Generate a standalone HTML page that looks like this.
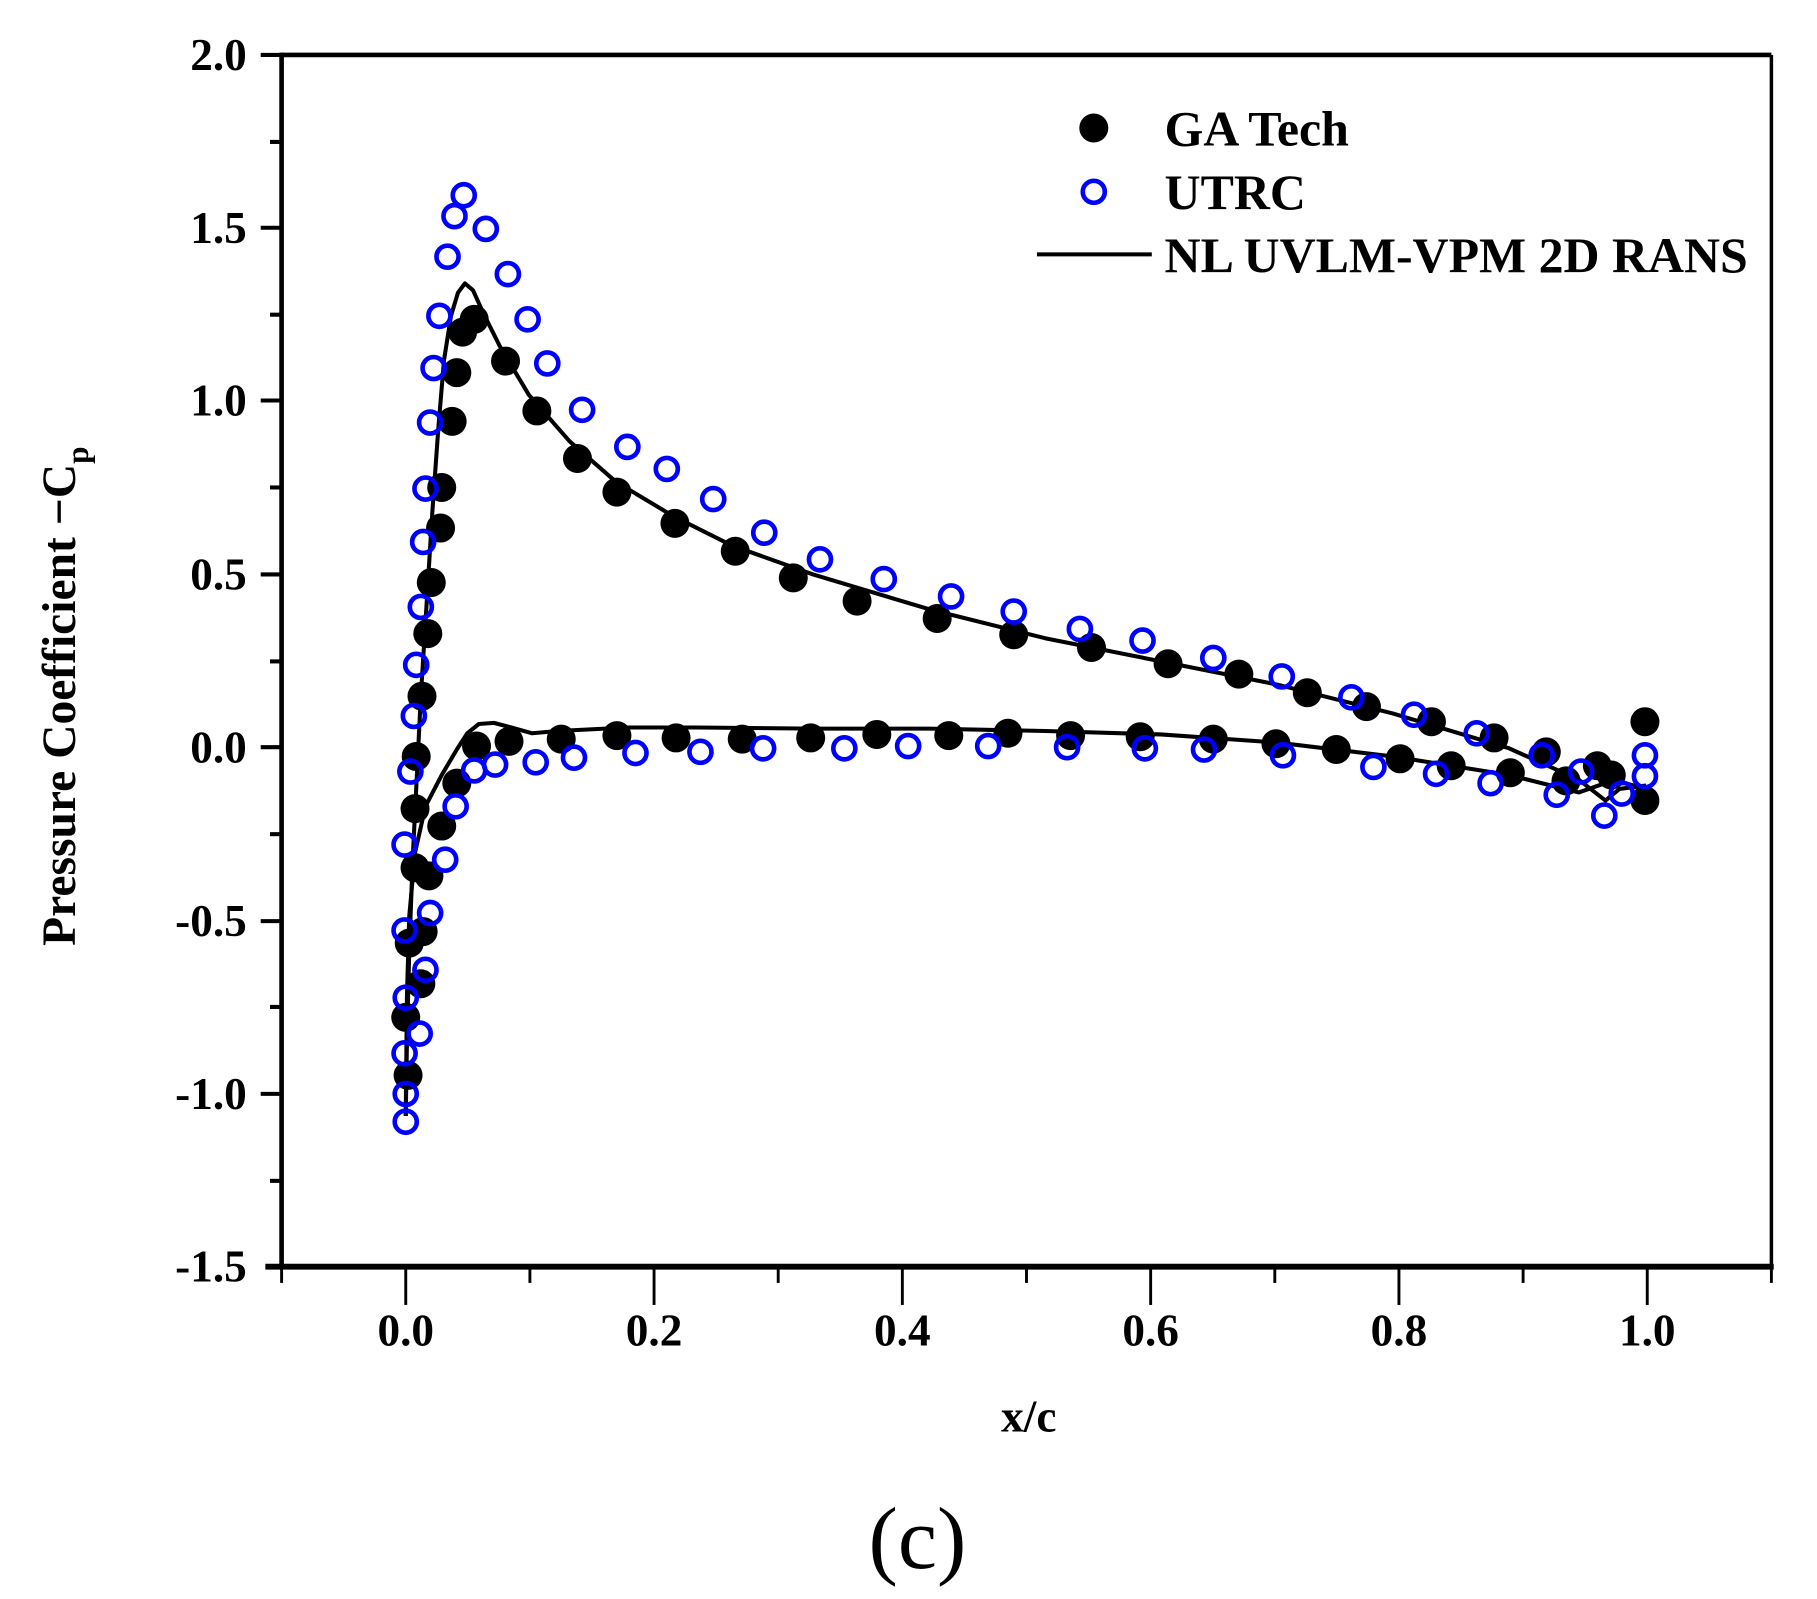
<!DOCTYPE html>
<html><head><meta charset="utf-8"><style>
html,body{margin:0;padding:0;background:#fff;}
svg{display:block;}
text{font-family:"Liberation Serif",serif;font-weight:bold;fill:#000;}
</style></head><body>
<svg width="1817" height="1599" viewBox="-0.7 -0.4 1566 1379" preserveAspectRatio="none" xmlns="http://www.w3.org/2000/svg">
<rect x="-1" y="-1" width="1568" height="1381" fill="#fff"/>
<line x1="242" y1="47" x2="1526" y2="47" stroke="#000" stroke-width="4"/>
<line x1="1526" y1="47" x2="1526" y2="1092" stroke="#000" stroke-width="3"/>
<line x1="242" y1="45" x2="242" y2="1094" stroke="#000" stroke-width="4"/>
<line x1="228" y1="1092" x2="1528" y2="1092" stroke="#000" stroke-width="5"/>
<g stroke="#000" stroke-width="3.5">
<line x1="224" y1="47" x2="242" y2="47"/>
<line x1="232" y1="122" x2="242" y2="122"/>
<line x1="224" y1="196" x2="242" y2="196"/>
<line x1="232" y1="271" x2="242" y2="271"/>
<line x1="224" y1="345" x2="242" y2="345"/>
<line x1="232" y1="420" x2="242" y2="420"/>
<line x1="224" y1="495" x2="242" y2="495"/>
<line x1="232" y1="570" x2="242" y2="570"/>
<line x1="224" y1="644" x2="242" y2="644"/>
<line x1="232" y1="719" x2="242" y2="719"/>
<line x1="224" y1="794" x2="242" y2="794"/>
<line x1="232" y1="868" x2="242" y2="868"/>
<line x1="224" y1="943" x2="242" y2="943"/>
<line x1="232" y1="1018" x2="242" y2="1018"/>
</g>
<g stroke="#000" stroke-width="2.5">
<line x1="242" y1="1092" x2="242" y2="1106"/>
<line x1="349" y1="1092" x2="349" y2="1125"/>
<line x1="456" y1="1092" x2="456" y2="1106"/>
<line x1="563" y1="1092" x2="563" y2="1125"/>
<line x1="670" y1="1092" x2="670" y2="1106"/>
<line x1="777" y1="1092" x2="777" y2="1125"/>
<line x1="884" y1="1092" x2="884" y2="1106"/>
<line x1="991" y1="1092" x2="991" y2="1125"/>
<line x1="1098" y1="1092" x2="1098" y2="1106"/>
<line x1="1205" y1="1092" x2="1205" y2="1125"/>
<line x1="1312" y1="1092" x2="1312" y2="1106"/>
<line x1="1419" y1="1092" x2="1419" y2="1125"/>
<line x1="1526" y1="1092" x2="1526" y2="1106"/>
</g>
<g font-size="39" text-anchor="end">
<text x="212" y="60">2.0</text>
<text x="212" y="209">1.5</text>
<text x="212" y="358">1.0</text>
<text x="212" y="508">0.5</text>
<text x="212" y="657">0.0</text>
<text x="212" y="807">-0.5</text>
<text x="212" y="956">-1.0</text>
<text x="212" y="1105">-1.5</text>
</g>
<g font-size="39" text-anchor="middle">
<text x="349" y="1160">0.0</text>
<text x="563" y="1160">0.2</text>
<text x="777" y="1160">0.4</text>
<text x="991" y="1160">0.6</text>
<text x="1205" y="1160">0.8</text>
<text x="1419" y="1160">1.0</text>
</g>
<text x="886" y="1234" font-size="39" text-anchor="middle">x/c</text>
<text x="790" y="1352" font-size="76" style="font-weight:normal" text-anchor="middle">(c)</text>
<text transform="translate(64,600) rotate(-90)" font-size="41" text-anchor="middle">Pressure Coefficient −C<tspan font-size="27" dy="11">p</tspan></text>
<polyline fill="none" stroke="#000" stroke-width="3.5" stroke-linejoin="round" points="349,962 350,900 352,820 355,740 358,680 362,600 367,520 372,440 377,370 382,310 388,272 394,252 400,244 407,250 416,270 430,298 455,340 490,380 530,415 580,445 630,470 700,495 800,525 900,550 1000,570 1100,590 1200,615 1300,645 1360,672 1383,690 1395,680 1418,677"/>
<polyline fill="none" stroke="#000" stroke-width="3.5" stroke-linejoin="round" points="349,962 350,860 352,790 357,735 366,695 380,668 393,646 402,632 412,624 425,623 440,627 458,632 480,630 540,627 600,627 700,628 800,628 900,630 1000,633 1100,640 1200,652 1300,668 1360,683 1380,676 1400,675 1418,680"/>
<g fill="#000">
<circle cx="351" cy="927" r="12.5"/><circle cx="349" cy="877" r="12.5"/><circle cx="352" cy="813" r="12.5"/><circle cx="357" cy="748" r="12.5"/><circle cx="357" cy="697" r="12.5"/><circle cx="358" cy="652" r="12.5"/><circle cx="363" cy="600" r="12.5"/><circle cx="368" cy="546" r="12.5"/><circle cx="371" cy="502" r="12.5"/><circle cx="379" cy="455" r="12.5"/><circle cx="380" cy="420" r="12.5"/><circle cx="389" cy="363" r="12.5"/><circle cx="393" cy="321" r="12.5"/><circle cx="398" cy="286" r="12.5"/><circle cx="408" cy="275" r="12.5"/><circle cx="435" cy="311" r="12.5"/><circle cx="462" cy="354" r="12.5"/><circle cx="497" cy="395" r="12.5"/><circle cx="531" cy="424" r="12.5"/><circle cx="581" cy="451" r="12.5"/><circle cx="633" cy="475" r="12.5"/><circle cx="683" cy="498" r="12.5"/><circle cx="738" cy="518" r="12.5"/><circle cx="807" cy="533" r="12.5"/><circle cx="873" cy="547" r="12.5"/><circle cx="940" cy="558" r="12.5"/><circle cx="1006" cy="572" r="12.5"/><circle cx="1067" cy="581" r="12.5"/><circle cx="1126" cy="597" r="12.5"/><circle cx="1177" cy="609" r="12.5"/><circle cx="1233" cy="622" r="12.5"/><circle cx="1287" cy="636" r="12.5"/><circle cx="1332" cy="648" r="12.5"/><circle cx="1376" cy="660" r="12.5"/><circle cx="1417" cy="622" r="12.5"/>
<circle cx="1417" cy="690" r="12.5"/><circle cx="1388" cy="668" r="12.5"/><circle cx="1349" cy="673" r="12.5"/><circle cx="1301" cy="666" r="12.5"/><circle cx="1250" cy="660" r="12.5"/><circle cx="1206" cy="654" r="12.5"/><circle cx="1151" cy="646" r="12.5"/><circle cx="1099" cy="641" r="12.5"/><circle cx="1045" cy="637" r="12.5"/><circle cx="982" cy="635" r="12.5"/><circle cx="922" cy="634" r="12.5"/><circle cx="868" cy="632" r="12.5"/><circle cx="817" cy="634" r="12.5"/><circle cx="755" cy="633" r="12.5"/><circle cx="698" cy="636" r="12.5"/><circle cx="639" cy="637" r="12.5"/><circle cx="582" cy="636" r="12.5"/><circle cx="531" cy="634" r="12.5"/><circle cx="483" cy="637" r="12.5"/><circle cx="438" cy="639" r="12.5"/><circle cx="410" cy="643" r="12.5"/><circle cx="393" cy="675" r="12.5"/><circle cx="380" cy="712" r="12.5"/><circle cx="369" cy="755" r="12.5"/><circle cx="364" cy="803" r="12.5"/><circle cx="362" cy="848" r="12.5"/>
</g>
<g fill="none" stroke="#0000ff" stroke-width="4">
<circle cx="349" cy="967" r="9.5"/><circle cx="349" cy="943" r="9.5"/><circle cx="348" cy="908" r="9.5"/><circle cx="349" cy="860" r="9.5"/><circle cx="348" cy="802" r="9.5"/><circle cx="348" cy="728" r="9.5"/><circle cx="353" cy="665" r="9.5"/><circle cx="356" cy="617" r="9.5"/><circle cx="358" cy="573" r="9.5"/><circle cx="362" cy="523" r="9.5"/><circle cx="364" cy="467" r="9.5"/><circle cx="366" cy="421" r="9.5"/><circle cx="370" cy="364" r="9.5"/><circle cx="373" cy="317" r="9.5"/><circle cx="378" cy="272" r="9.5"/><circle cx="385" cy="221" r="9.5"/><circle cx="391" cy="186" r="9.5"/><circle cx="399" cy="168" r="9.5"/><circle cx="418" cy="197" r="9.5"/><circle cx="437" cy="236" r="9.5"/><circle cx="454" cy="275" r="9.5"/><circle cx="471" cy="313" r="9.5"/><circle cx="501" cy="353" r="9.5"/><circle cx="540" cy="385" r="9.5"/><circle cx="574" cy="404" r="9.5"/><circle cx="614" cy="430" r="9.5"/><circle cx="658" cy="459" r="9.5"/><circle cx="706" cy="482" r="9.5"/><circle cx="761" cy="499" r="9.5"/><circle cx="819" cy="514" r="9.5"/><circle cx="873" cy="527" r="9.5"/><circle cx="930" cy="542" r="9.5"/><circle cx="984" cy="552" r="9.5"/><circle cx="1045" cy="567" r="9.5"/><circle cx="1104" cy="583" r="9.5"/><circle cx="1164" cy="601" r="9.5"/><circle cx="1218" cy="616" r="9.5"/><circle cx="1272" cy="632" r="9.5"/><circle cx="1328" cy="651" r="9.5"/><circle cx="1362" cy="665" r="9.5"/>
<circle cx="1417" cy="651" r="9.5"/><circle cx="1417" cy="669" r="9.5"/><circle cx="1382" cy="703" r="9.5"/><circle cx="1397" cy="684" r="9.5"/><circle cx="1341" cy="685" r="9.5"/><circle cx="1284" cy="675" r="9.5"/><circle cx="1237" cy="667" r="9.5"/><circle cx="1183" cy="661" r="9.5"/><circle cx="1105" cy="651" r="9.5"/><circle cx="1037" cy="646" r="9.5"/><circle cx="986" cy="645" r="9.5"/><circle cx="919" cy="644" r="9.5"/><circle cx="851" cy="643" r="9.5"/><circle cx="782" cy="643" r="9.5"/><circle cx="727" cy="645" r="9.5"/><circle cx="657" cy="645" r="9.5"/><circle cx="603" cy="648" r="9.5"/><circle cx="547" cy="649" r="9.5"/><circle cx="494" cy="653" r="9.5"/><circle cx="461" cy="657" r="9.5"/><circle cx="426" cy="659" r="9.5"/><circle cx="408" cy="664" r="9.5"/><circle cx="392" cy="695" r="9.5"/><circle cx="383" cy="741" r="9.5"/><circle cx="370" cy="787" r="9.5"/><circle cx="366" cy="836" r="9.5"/><circle cx="361" cy="891" r="9.5"/>
</g>
<circle cx="942" cy="110" r="12.5" fill="#000"/>
<circle cx="942" cy="165" r="9.5" fill="none" stroke="#0000ff" stroke-width="4"/>
<line x1="893" y1="219" x2="992" y2="219" stroke="#000" stroke-width="3.5"/>
<g font-size="43">
<text x="1003" y="125">GA Tech</text>
<text x="1003" y="180">UTRC</text>
<text x="1003" y="234">NL UVLM-VPM 2D RANS</text>
</g>
</svg>
</body></html>
